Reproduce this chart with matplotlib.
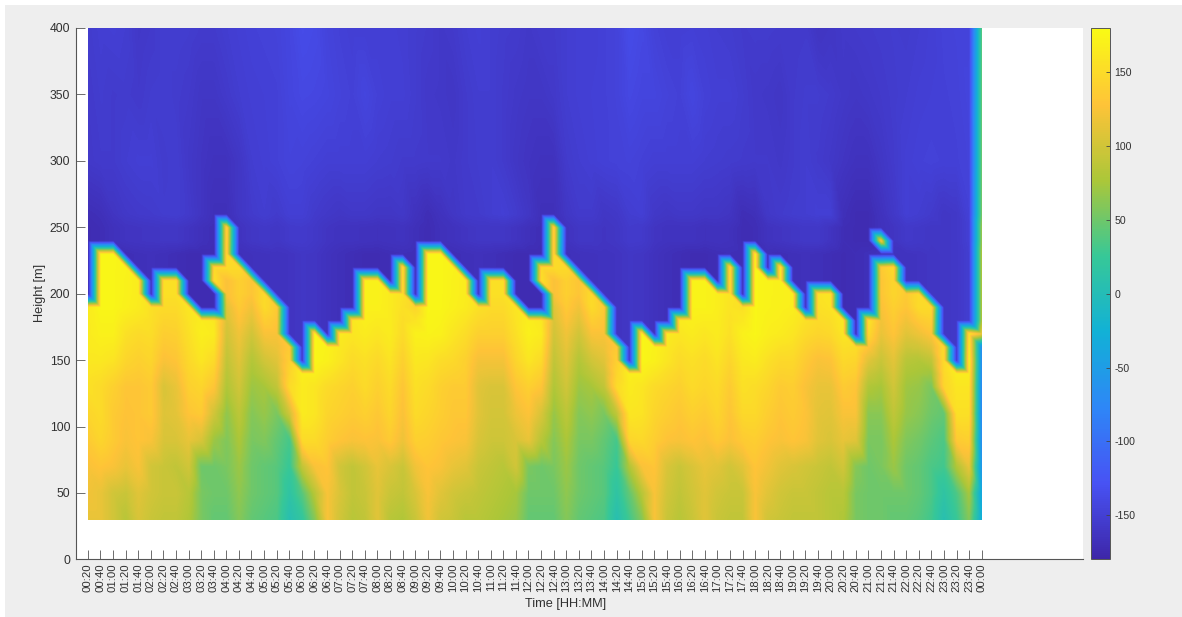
import numpy as np
import matplotlib
matplotlib.use("Agg")
import matplotlib.pyplot as plt
import matplotlib.tri as mtri
from matplotlib.colors import LinearSegmentedColormap
from matplotlib.patches import Rectangle

plt.rcParams['font.family'] = ['Liberation Sans', 'DejaVu Sans']
plt.rcParams['axes.unicode_minus'] = False

W, H = 1182, 617
tick_labels = ["%02d:%02d" % ((m // 60) % 24, m % 60) for m in range(20, 1441, 20)]
colorbar_ticks = [-150, -100, -50, 0, 50, 100, 150]
y_ticks = [0, 50, 100, 150, 200, 250, 300, 350, 400]

# top occupied level of the warm layer in each column (m)
top_level = [190,230,230,220,210,190,210,210,190,180,
             180,250,220,210,200,190,160,140,170,160,
             170,180,210,210,200,220,190,230,230,220,
             210,190,210,210,190,180,180,250,220,210,
             200,190,160,140,170,160,170,180,210,210,
             200,220,190,230,210,220,200,180,200,200,
             180,160,180,220,220,200,200,190,160,140,170,170]
# detached warm patches above the layer: column number, lowest, highest level
island_col = [11, 37, 64]
island_low = [210, 210, 240]
island_high = [220, 220, 240]

warm_heights = [30, 50, 70, 90, 110, 130, 140, 150, 160, 170, 180, 190, 200, 220]
warm_30 = [115,115,100,85,105,95,90,90,80,55,
           45,45,60,45,40,35,5,20,60,125,
           100,85,90,110,85,80,95,120,100,95,
           85,85,80,75,70,45,45,45,60,45,
           40,35,5,30,60,125,95,85,95,110,
           95,90,90,125,100,95,90,90,90,85,
           80,55,50,50,45,45,40,30,5,25,60,-30]
warm_50 = [120,115,100,95,110,100,95,95,85,55,
           50,50,65,50,45,40,15,40,85,125,
           105,90,95,110,95,90,105,125,110,100,
           95,90,85,80,75,50,50,50,65,50,
           45,40,15,45,85,125,100,90,100,110,
           100,95,95,125,110,100,95,95,90,85,
           85,55,50,50,50,50,45,35,15,35,75,-40]
warm_70 = [125,130,125,115,125,100,95,90,100,50,
           50,55,70,50,45,40,25,90,125,130,
           100,90,100,115,105,95,120,130,125,115,
           110,95,90,85,100,55,50,55,70,50,
           45,40,25,80,125,130,105,95,105,115,
           110,100,110,130,120,110,105,100,95,90,
           100,60,50,55,70,50,45,35,30,80,115,-60]
warm_90 = [135,145,135,125,130,125,105,105,115,105,
           70,58,78,55,58,45,32,150,150,138,
           130,125,128,125,135,118,140,138,132,128,
           125,105,98,98,105,115,85,60,78,55,
           55,45,32,145,148,138,128,125,130,125,
           135,125,135,138,130,125,130,125,110,105,
           115,110,55,55,78,58,52,42,35,135,140,-70]
warm_110 = [145,150,135,128,130,135,108,112,130,135,
            100,65,88,60,68,55,100,165,160,145,
            140,135,140,132,145,125,150,145,138,132,
            132,110,102,102,118,128,105,68,88,60,
            65,55,90,160,158,145,138,132,140,135,
            145,130,148,148,138,130,135,128,112,110,
            125,125,62,62,90,68,62,50,45,155,155,-75]
warm_130 = [155,150,140,130,130,135,105,115,140,145,
            130,80,100,70,75,90,150,165,160,150,
            145,140,150,140,150,130,155,150,140,135,
            135,110,105,105,130,140,130,80,100,70,
            75,90,150,165,160,150,145,140,150,145,
            150,135,155,152,145,135,138,125,115,115,
            135,130,80,75,100,72,68,55,145,160,160,-75]
warm_140 = [158,156,149,138,135,140,115,122,144,152,
            140,85,105,76,88,100,145,168,168,160,
            152,145,152,144,154,135,158,155,146,142,
            138,116,114,114,138,150,140,85,105,76,
            88,100,145,168,168,160,152,145,152,148,
            154,140,158,158,150,142,143,130,120,122,
            142,138,95,85,106,78,75,72,148,166,166,-72]
warm_150 = [162,162,158,145,140,145,125,130,148,160,
            150,90,110,82,100,110,140,170,175,170,
            160,150,155,148,158,140,162,160,152,148,
            140,122,122,122,145,160,150,90,110,82,
            100,110,140,170,175,170,160,150,155,150,
            158,145,162,165,155,148,148,135,125,128,
            148,145,110,95,112,85,82,90,150,172,172,-70]
warm_160 = [164,166,164,150,145,148,132,135,152,164,
            158,95,115,91,112,118,135,170,175,171,
            162,155,160,154,162,145,166,166,161,154,
            146,131,131,131,150,165,158,95,115,91,
            112,118,135,170,175,171,162,155,160,155,
            162,150,166,170,162,156,154,142,135,138,
            154,152,130,105,120,98,100,110,150,172,166,-70]
warm_170 = [165,170,170,155,150,152,138,140,155,168,
            165,100,120,100,125,125,130,170,175,172,
            165,160,165,160,165,150,170,172,170,160,
            152,140,140,140,155,170,165,100,120,100,
            125,125,130,170,175,172,165,160,165,160,
            165,155,170,175,168,165,160,150,145,148,
            160,165,150,115,130,110,118,130,150,172,160,120]
warm_180 = [165,172,172,162,158,154,144,145,158,166,
            162,105,128,110,138,130,130,170,175,172,
            168,162,168,165,165,152,158,174,172,165,
            158,148,145,145,158,168,162,105,128,110,
            138,130,132,170,175,172,168,165,168,166,
            166,156,162,175,170,168,164,155,150,153,
            162,165,158,120,135,120,134,140,150,172,160,120]
warm_190 = [165,175,175,170,165,155,150,150,160,165,
            160,110,135,120,150,135,130,170,175,172,
            170,165,170,170,165,155,145,175,175,170,
            165,155,150,150,160,165,160,110,135,120,
            150,135,135,170,175,172,170,170,172,172,
            168,158,155,175,172,170,168,160,155,158,
            165,165,165,125,140,130,150,150,150,172,160,120]
warm_200 = [163,175,175,171,166,157,155,155,160,165,
            155,125,140,130,150,137,130,170,175,172,
            170,165,171,171,165,157,147,175,175,171,
            166,157,155,155,160,165,155,125,140,130,
            150,137,135,170,175,172,170,170,172,172,
            168,159,155,175,172,171,168,160,157,159,
            165,165,168,130,145,135,150,150,150,172,160,120]
warm_220 = [160,175,175,172,168,160,162,162,160,160,
            150,150,150,150,150,140,130,170,175,172,
            170,165,172,172,165,160,150,175,175,172,
            168,160,162,162,160,160,150,150,150,150,
            150,140,135,170,175,172,170,170,172,172,
            168,160,155,175,172,172,168,160,160,160,
            165,165,170,135,150,140,150,150,150,172,160,120]
warm_rows = [warm_30, warm_50, warm_70, warm_90, warm_110, warm_130, warm_140,
             warm_150, warm_160, warm_170, warm_180, warm_190, warm_200, warm_220]

cold_heights = [220, 240, 260, 300, 350, 400]
cold_400 = [-154,-151,-150,-152,-158,-156,-152,-152,-153,-155,
            -155,-152,-150,-148,-147,-146,-142,-136,-138,-145,
            -148,-150,-150,-150,-150,-151,-153,-155,-158,-156,
            -152,-150,-152,-154,-155,-158,-155,-155,-152,-150,
            -150,-148,-146,-136,-140,-147,-150,-150,-149,-150,
            -152,-153,-155,-154,-154,-155,-156,-155,-162,-160,
            -157,-156,-155,-154,-153,-154,-152,-150,-147,-146,-146,40]
cold_350 = [-156,-153,-155,-154,-156,-153,-152,-154,-156,-160,
            -160,-156,-152,-150,-149,-148,-143,-140,-141,-143,
            -146,-148,-143,-148,-150,-150,-153,-157,-158,-160,
            -155,-152,-152,-155,-158,-160,-160,-157,-152,-150,
            -149,-148,-146,-140,-143,-143,-146,-148,-142,-148,
            -150,-150,-153,-157,-158,-160,-155,-153,-153,-155,
            -158,-160,-158,-156,-154,-152,-150,-149,-148,-147,-144,45]
cold_300 = [-157,-155,-155,-152,-150,-150,-154,-152,-158,-162,
            -165,-165,-160,-152,-150,-148,-145,-146,-148,-150,
            -150,-150,-150,-152,-153,-155,-155,-156,-156,-158,
            -155,-153,-152,-155,-160,-163,-165,-165,-155,-152,
            -150,-148,-147,-146,-148,-150,-150,-150,-150,-152,
            -153,-154,-155,-156,-156,-158,-155,-152,-155,-158,
            -162,-165,-165,-160,-155,-150,-148,-147,-148,-148,-146,50]
cold_260 = [-170,-168,-162,-158,-156,-155,-153,-152,-156,-162,
            -168,-168,-160,-155,-152,-155,-150,-150,-155,-158,
            -160,-158,-158,-160,-160,-158,-165,-170,-165,-160,
            -156,-155,-152,-150,-154,-160,-168,-168,-160,-155,
            -155,-160,-158,-152,-150,-158,-160,-158,-158,-160,
            -160,-162,-170,-168,-158,-155,-153,-152,-150,-150,
            -168,-172,-172,-165,-158,-150,-152,-155,-160,-158,-148,55]
cold_240 = [-172,-170,-166,-163,-162,-161,-160,-160,-163,-167,
            -170,-169,-164,-160,-158,-160,-156,-155,-158,-162,
            -164,-164,-165,-166,-165,-164,-168,-171,-167,-165,
            -162,-160,-160,-160,-163,-167,-170,-169,-164,-160,
            -160,-162,-160,-155,-156,-162,-164,-164,-164,-166,
            -165,-166,-171,-170,-164,-162,-160,-158,-158,-163,
            -170,-172,-172,-166,-162,-157,-158,-160,-160,-158,-150,70]
cold_220 = [-172,-170,-169,-170,-168,-167,-168,-170,-172,-172,
            -172,-170,-168,-166,-165,-164,-163,-160,-161,-165,
            -168,-170,-172,-172,-170,-169,-170,-171,-169,-170,
            -168,-167,-168,-170,-172,-172,-172,-170,-168,-166,
            -165,-164,-163,-160,-161,-165,-168,-170,-172,-172,
            -170,-169,-170,-171,-169,-170,-168,-167,-168,-170,
            -172,-170,-168,-166,-165,-164,-163,-161,-160,-158,-152,80]
cold_rows = [cold_220, cold_240, cold_260, cold_300, cold_350, cold_400]

parula_stops = [(0.2422, 0.1504, 0.6603), (0.2810, 0.3228, 0.9579),
                (0.1786, 0.5289, 0.9682), (0.0689, 0.6948, 0.8394),
                (0.2161, 0.7843, 0.5923), (0.6720, 0.7793, 0.2227),
                (0.9970, 0.7659, 0.2199), (0.9769, 0.9839, 0.0805)]
parula = LinearSegmentedColormap.from_list("parula_like", parula_stops, N=256)

# Mesh rows: the table rows low down and aloft, every 10 m where the layer top moves
levels = [30, 50, 70, 90, 110, 130] + list(range(140, 261, 10)) + [300, 350, 400]
columns = list(range(1, 73))
warm = np.array(warm_rows, dtype=float)
cold = np.array(cold_rows, dtype=float)
grid = np.zeros((len(levels), len(columns)))
for j, col in enumerate(columns):
    for i, lev in enumerate(levels):
        is_warm = lev <= top_level[j]
        for c, lo, hi in zip(island_col, island_low, island_high):
            if c == col and lo <= lev <= hi:
                is_warm = True
        if is_warm:
            row = np.argmin(np.abs(np.array(warm_heights) - lev))
            grid[i, j] = warm[row, j]
        else:
            row = np.argmin(np.abs(np.array(cold_heights) - lev))
            grid[i, j] = cold[row, j]

# Each mesh cell is split along its upper-left to lower-right diagonal
nr, nc = grid.shape
gx, gy = np.meshgrid(columns, levels)
triangles = []
for i in range(nr - 1):
    for j in range(nc - 1):
        bl, br = i * nc + j, i * nc + j + 1
        tl, tr = (i + 1) * nc + j, (i + 1) * nc + j + 1
        triangles.append([bl, br, tl])
        triangles.append([br, tr, tl])
mesh = mtri.Triangulation(gx.ravel(), gy.ravel(), np.array(triangles))
shade = mtri.LinearTriInterpolator(mesh, grid.ravel())
sx = np.linspace(1, 72, 1788)
sy = np.linspace(30, 400, 984)
px, py = np.meshgrid(sx, sy)
raster = np.ma.filled(shade(px, py), np.nan)
raster = np.where(np.isnan(raster), -170, raster)


def box(x0, y0, x1, y1):
    return [x0 / W, 1 - y1 / H, (x1 - x0) / W, (y1 - y0) / H]


fig = plt.figure(figsize=(W / 100, H / 100), dpi=100, facecolor="white")
fig.add_artist(Rectangle((5 / W, 0), (W - 5) / W, (H - 5) / H, transform=fig.transFigure,
                         facecolor="#EEEEEE", edgecolor="none", zorder=-10))

ax = fig.add_axes(box(75.7, 28, 1082.7, 559.4))
ax.set_facecolor("white")
im = ax.imshow(raster, origin="lower", extent=[1, 72, 30, 400], aspect="auto",
               cmap=parula, vmin=-180, vmax=180, interpolation="bilinear",
               interpolation_stage="data")
ax.set_xlim(0.04, 80.02)
ax.set_ylim(0, 400)

dark = "#303030"
for s in ("top", "right"):
    ax.spines[s].set_visible(False)
for s in ("left", "bottom"):
    ax.spines[s].set_color("#555555")
    ax.spines[s].set_linewidth(0.8)
ax.set_xticks(columns)
ax.set_xticklabels(tick_labels, rotation=90, fontsize=8.2, color=dark)
ax.set_yticks(y_ticks)
ax.tick_params(axis="x", direction="in", length=6.5, width=0.6, color="#555555", pad=3)
ax.tick_params(axis="y", direction="in", length=6.5, width=0.6, color="#555555", pad=4,
               labelsize=8.7, labelcolor=dark)
fig.text(566 / W, 1 - 604.5 / H, "Time [HH:MM]", fontsize=9.2, color=dark, ha="center", va="center")
fig.text(40 / W, 1 - 293 / H, "Height [m]", fontsize=9.2, color=dark, ha="center", va="center",
         rotation=90)

cax = fig.add_axes(box(1091, 28, 1110, 559.4))
cb = fig.colorbar(im, cax=cax)
cb.set_ticks(colorbar_ticks)
cb.ax.tick_params(direction="in", length=3, width=0.6, color="#444444", pad=3,
                  labelsize=7.6, labelcolor=dark)
cb.outline.set_edgecolor("#555555")
cb.outline.set_linewidth(0.7)

fig.savefig("out.png", dpi=100, facecolor=fig.get_facecolor())
